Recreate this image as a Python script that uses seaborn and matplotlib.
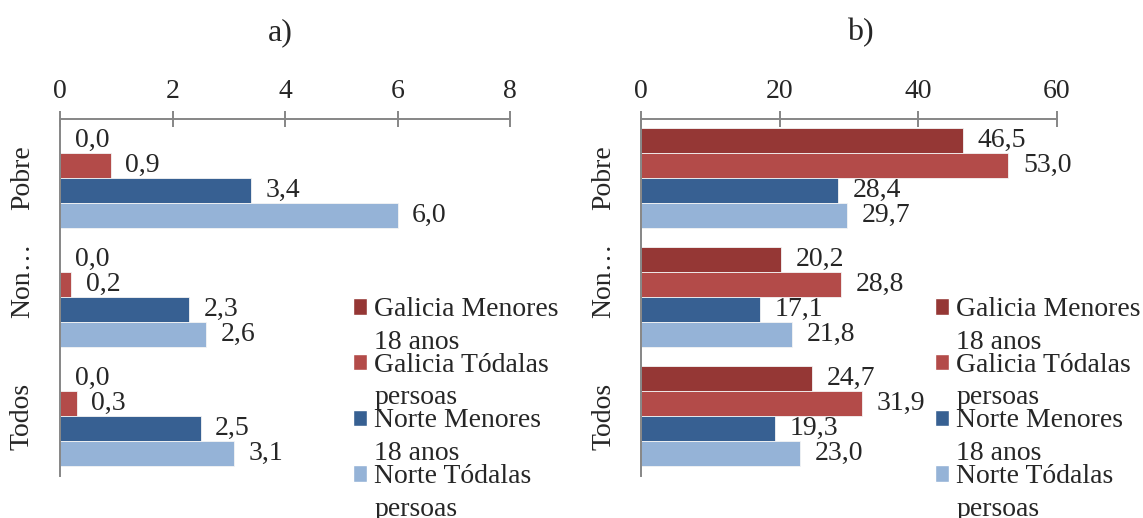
import pandas as pd
import matplotlib.pyplot as plt
import matplotlib.transforms as mtransforms
from matplotlib.patches import Patch, Rectangle
from matplotlib.legend_handler import HandlerPatch
import seaborn as sns


# Chart data
CATEGORIES = ["Pobre", "Non…", "Todos"]
SERIES = [
    "Galicia Menores\n18 anos",
    "Galicia Tódalas\npersoas",
    "Norte Menores\n18 anos",
    "Norte Tódalas\npersoas",
]

# panel a): one list per series, in category order
A_GALICIA_MENORES = [0.0, 0.0, 0.0]
A_GALICIA_TODALAS = [0.9, 0.2, 0.3]
A_NORTE_MENORES = [3.4, 2.3, 2.5]
A_NORTE_TODALAS = [6.0, 2.6, 3.1]

# panel b)
B_GALICIA_MENORES = [46.5, 20.2, 24.7]
B_GALICIA_TODALAS = [53.0, 28.8, 31.9]
B_NORTE_MENORES = [28.4, 17.1, 19.3]
B_NORTE_TODALAS = [29.7, 21.8, 23.0]

A_TICKS = [0, 2, 4, 6, 8]
B_TICKS = [0, 20, 40, 60]

COLORS = ["#953735", "#B34B49", "#376092", "#95B3D7"]
AXIS_GRAY = "#868686"
FS = 20


def long_frame(values):

    rows = []
    for serie, vals in zip(SERIES, values):
        for cat, v in zip(CATEGORIES, vals):
            rows.append({"cat": cat, "serie": serie, "val": v})

    return pd.DataFrame(rows)


def first_line_patch(legend, orig_handle, xdescent, ydescent,
                     width, height, fontsize):

    # square aligned with the first line of a two-line label
    return Rectangle((-xdescent, -ydescent + 0.68 * fontsize), width, height)


def draw_panel(fig, rect, df, xmax, ticks, title, title_x, legend_x):

    ax = fig.add_axes(rect)

    sns.barplot(
        data=df, y="cat", x="val", hue="serie",
        hue_order=SERIES, order=CATEGORIES,
        palette=COLORS, saturation=1, width=0.84,
        orient="h", errorbar=None, legend=False,
        edgecolor="#f4f4f4", linewidth=0.6, ax=ax
    )

    for cont in ax.containers:
        labels = [f"{v:.1f}".replace(".", ",") for v in cont.datavalues]
        ax.bar_label(cont, labels=labels, padding=10.5, fontsize=FS)

    ax.set_xlim(0, xmax)
    ax.set_xticks(ticks)
    ax.xaxis.tick_top()
    ax.set_xlabel("")
    ax.set_ylabel("")

    for side in ["right", "bottom"]:
        ax.spines[side].set_visible(False)
    for side in ["top", "left"]:
        ax.spines[side].set_color(AXIS_GRAY)
        ax.spines[side].set_linewidth(1.4)

    ax.tick_params(axis="x", direction="inout", length=11.5, width=1.4,
                   color=AXIS_GRAY, labelsize=FS, pad=5)
    ax.tick_params(axis="y", length=0, labelsize=FS, pad=18)

    for lbl in ax.get_yticklabels():
        lbl.set_rotation(90)
        lbl.set_va("center")

    # truncated label sits a bit higher in the original
    lbl = ax.get_yticklabels()[1]
    lbl.set_transform(lbl.get_transform() + mtransforms.ScaledTranslation(
        0, 16.5 / 100, fig.dpi_scale_trans))

    fig.text(title_x, 1 - 33 / 518, title, fontsize=23,
             ha="center", va="center")

    handles = [Patch(facecolor=c) for c in COLORS]
    leg = ax.legend(
        handles, SERIES,
        loc="upper left",
        bbox_to_anchor=(legend_x, 1 - 297 / 518),
        bbox_transform=fig.transFigure,
        frameon=False, fontsize=FS,
        borderpad=0, borderaxespad=0,
        handlelength=0.52, handleheight=0.52,
        handletextpad=0.25, labelspacing=-0.07,
        handler_map={Patch: HandlerPatch(patch_func=first_line_patch)}
    )
    for t in leg.get_texts():
        t.set_linespacing(1.4)

    return ax


if __name__ == "__main__":

    sns.set_style("white")
    plt.rcParams["font.family"] = ["Liberation Serif", "DejaVu Serif"]

    df_a = long_frame([A_GALICIA_MENORES, A_GALICIA_TODALAS,
                       A_NORTE_MENORES, A_NORTE_TODALAS])
    df_b = long_frame([B_GALICIA_MENORES, B_GALICIA_TODALAS,
                       B_NORTE_MENORES, B_NORTE_TODALAS])

    fig = plt.figure(figsize=(11.43, 5.18), dpi=100)

    bottom = 1 - 475.5 / 518
    height = (475.5 - 118.5) / 518

    draw_panel(fig, [60 / 1143, bottom, 450 / 1143, height], df_a,
               8, A_TICKS, "a)", 280 / 1143, 353 / 1143)
    draw_panel(fig, [641 / 1143, bottom, 416 / 1143, height], df_b,
               60, B_TICKS, "b)", 860 / 1143, 935 / 1143)

    plt.savefig("out.png", dpi=100)
    plt.close()
